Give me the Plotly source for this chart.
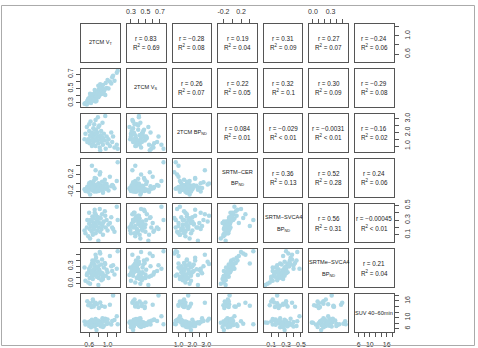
import plotly.graph_objects as go

# ---- data ----
vt = [0.52,0.55,0.58,0.60,0.61,0.63,0.64,0.65,0.66,0.67,0.68,0.69,0.70,0.70,0.71,0.72,0.73,0.74,0.75,0.76,
      0.77,0.78,0.79,0.80,0.81,0.82,0.83,0.84,0.85,0.86,0.87,0.88,0.89,0.90,0.92,0.94,0.96,0.98,1.00,1.02,
      1.05,1.08,1.10,1.15,1.20,1.22,0.62,0.74,0.56,0.80,0.66,0.90,0.72,0.50,0.95,0.68,0.84,0.76,1.12,0.60]
vs = [0.30,0.28,0.36,0.31,0.38,0.33,0.30,0.40,0.34,0.37,0.42,0.33,0.36,0.41,0.38,0.34,0.45,0.37,0.40,0.44,
      0.39,0.46,0.41,0.38,0.49,0.40,0.44,0.50,0.42,0.47,0.45,0.52,0.43,0.55,0.46,0.49,0.58,0.51,0.62,0.50,
      0.60,0.57,0.66,0.61,0.72,0.75,0.43,0.32,0.33,0.54,0.36,0.44,0.48,0.29,0.41,0.35,0.56,0.33,0.68,0.35]
bp = [1.9,2.4,1.5,2.1,1.2,2.8,1.7,1.4,2.0,1.6,1.1,2.3,1.8,1.3,2.6,1.5,1.9,1.0,2.2,1.6,
      1.4,2.0,3.1,1.2,1.7,2.5,0.9,1.5,1.8,2.1,1.3,1.6,2.7,1.1,1.9,1.4,0.8,1.7,1.2,1.5,
      1.0,2.0,1.3,0.9,1.1,0.8,1.8,2.9,1.3,2.4,1.0,1.6,2.2,1.5,3.2,1.4,0.7,1.9,1.7,2.6]
cer = [-0.18,-0.12,-0.20,-0.05,-0.15,0.02,-0.10,-0.08,-0.14,-0.02,-0.17,-0.06,0.05,-0.11,-0.19,-0.04,-0.13,-0.09,0.10,-0.16,
       -0.07,-0.12,-0.03,0.00,-0.18,-0.10,0.20,-0.14,-0.05,-0.08,-0.15,0.03,-0.11,-0.20,-0.06,0.08,-0.13,-0.02,-0.09,-0.17,
       0.15,-0.07,-0.04,-0.12,0.05,0.48,-0.26,0.30,-0.08,-0.15,0.40,-0.22,0.12,-0.14,-0.01,-0.10,0.25,-0.19,-0.06,0.00]
svca4 = [0.12,0.20,0.08,0.25,0.18,0.30,0.22,0.15,0.28,0.35,0.10,0.20,0.32,0.24,0.18,0.40,0.26,0.12,0.36,0.22,
         0.30,0.16,0.28,0.34,0.20,0.26,0.45,0.14,0.32,0.24,0.18,0.38,0.22,0.10,0.28,0.42,0.20,0.30,0.16,0.24,
         0.26,0.34,0.20,0.14,0.48,0.30,0.05,0.38,0.30,0.02,0.22,0.26,0.44,0.16,0.36,0.12,0.33,0.28,0.18,0.40]
svca4e = [0.05,0.15,0.02,0.22,0.10,0.30,0.18,0.12,0.20,0.40,0.08,0.25,0.35,0.15,0.22,0.32,0.18,0.28,0.45,0.12,
          0.26,0.20,0.38,0.30,0.10,0.24,0.55,0.16,0.20,0.33,0.06,0.42,0.18,0.12,0.28,0.36,0.14,0.24,0.20,0.10,
          0.48,0.30,0.22,0.16,0.26,0.56,0.00,0.50,0.18,-0.02,0.35,0.08,0.40,0.28,0.34,0.22,0.52,0.14,0.32,0.26]
suv = [7.5,8.2,14.5,7.0,15.2,8.8,6.5,13.8,9.2,7.8,15.8,8.0,14.0,7.2,8.5,6.8,15.0,9.5,7.6,8.4,
       14.8,7.4,9.0,8.1,13.5,7.9,8.7,15.5,6.9,8.3,14.2,7.3,9.8,8.6,7.1,13.9,8.9,7.7,9.3,8.0,
       14.6,7.5,8.8,9.1,10.5,7.6,8.1,15.4,15.9,8.2,14.3,6.6,7.0,8.6,9.6,16.5,7.8,5.5,18.0,8.4]

series = [vt, vs, bp, cer, svca4, svca4e, suv]
labels = [["2TCM V<sub>T</sub>"], ["2TCM V<sub>S</sub>"], ["2TCM BP<sub>ND</sub>"],
          ["SRTM−CER", "BP<sub>ND</sub>"], ["SRTM−SVCA4", "BP<sub>ND</sub>"],
          ["SRTMe−SVCA4", "BP<sub>ND</sub>"], ["SUV 40−60min"]]

# correlation text for upper panels: (row, col) -> (r, R2)
r_text = {
    (0,1): ("0.83","= 0.69"), (0,2): ("−0.28","= 0.08"), (0,3): ("0.19","= 0.04"),
    (0,4): ("0.31","= 0.09"), (0,5): ("0.27","= 0.07"), (0,6): ("−0.24","= 0.06"),
    (1,2): ("0.26","= 0.07"), (1,3): ("0.22","= 0.05"), (1,4): ("0.32","= 0.1"),
    (1,5): ("0.30","= 0.09"), (1,6): ("−0.29","= 0.08"),
    (2,3): ("0.084","= 0.01"), (2,4): ("−0.029","< 0.01"), (2,5): ("−0.0031","< 0.01"),
    (2,6): ("−0.16","= 0.02"),
    (3,4): ("0.36","= 0.13"), (3,5): ("0.52","= 0.28"), (3,6): ("0.24","= 0.06"),
    (4,5): ("0.56","= 0.31"), (4,6): ("−0.00045","< 0.01"),
    (5,6): ("0.21","= 0.04"),
}

ranges = [[0.43, 1.27], [0.245, 0.778], [0.57, 3.36], [-0.32, 0.56],
          [0.0, 0.52], [-0.06, 0.60], [4.7, 18.5]]
tickvals = [[0.6, 0.8, 1.0, 1.2], [0.3, 0.4, 0.5, 0.6, 0.7], [1.0, 1.5, 2.0, 2.5, 3.0],
            [-0.2, 0.0, 0.2, 0.4], [0.1, 0.2, 0.3, 0.4, 0.5], [0.0, 0.1, 0.2, 0.3, 0.4, 0.5],
            [6, 8, 10, 12, 14, 16, 18]]
ticktext = [["0.6", "", "1.0", ""], ["0.3", "", "0.5", "", "0.7"], ["1.0", "", "2.0", "", "3.0"],
            ["-0.2", "", "0.2", ""], ["0.1", "", "0.3", "", "0.5"], ["0.0", "", "", "0.3", "", ""],
            ["6", "", "10", "", "", "16", ""]]

W, H = 478, 348
LEFT, TOP, PITCH, SIZE = 81, 19, 46, 39
N = 7
FONT = "Liberation Sans, Arial, Helvetica, sans-serif"
LINE = "#555555"
PT = "#ADD8E6"

fig = go.Figure()
layout = dict(width=W, height=H, margin=dict(l=0, r=0, t=0, b=0),
              paper_bgcolor="white", plot_bgcolor="white", showlegend=False,
              font=dict(family=FONT, size=7, color="#222222"))
annotations = []

for i in range(N):
    for j in range(N):
        k = i * N + j + 1
        sx = "" if k == 1 else str(k)
        x0 = LEFT + PITCH * j
        y0 = TOP + PITCH * i
        xd = [x0 / W, (x0 + SIZE) / W]
        yd = [1 - (y0 + SIZE) / H, 1 - y0 / H]
        xa = dict(domain=xd, range=ranges[j], anchor="y" + sx, showgrid=False, zeroline=False,
                  showline=True, mirror=True, linecolor=LINE, linewidth=1,
                  showticklabels=False, ticks="", fixedrange=True)
        ya = dict(domain=yd, range=ranges[i], anchor="x" + sx, showgrid=False, zeroline=False,
                  showline=True, mirror=True, linecolor=LINE, linewidth=1,
                  showticklabels=False, ticks="", fixedrange=True)
        tick_common = dict(ticks="outside", ticklen=4, tickwidth=1, tickcolor=LINE,
                           showticklabels=True, tickfont=dict(size=7, color="#333333"))
        if i == N - 1 and j % 2 == 0:
            xa.update(tick_common, side="bottom", tickvals=tickvals[j], ticktext=ticktext[j],
                      tickangle=0, ticklabelstandoff=1)
        if i == 0 and j % 2 == 1:
            xa.update(tick_common, side="top", tickvals=tickvals[j], ticktext=ticktext[j],
                      tickangle=0, ticklabelstandoff=2)
        if j == 0 and i % 2 == 1:
            ya.update(tick_common, side="left", tickvals=tickvals[i], ticktext=ticktext[i],
                      tickangle=-90, ticklabelstandoff=1)
        if j == N - 1 and i % 2 == 0:
            ya.update(tick_common, side="right", tickvals=tickvals[i], ticktext=ticktext[i],
                      tickangle=-90, ticklabelstandoff=3)
        layout["xaxis" + sx] = xa
        layout["yaxis" + sx] = ya

        if i > j:
            fig.add_trace(go.Scatter(x=series[j], y=series[i], mode="markers",
                                     xaxis="x" + sx, yaxis="y" + sx,
                                     marker=dict(size=4.5, color=PT, line=dict(width=0)),
                                     hoverinfo="skip"))
        else:
            # empty trace so the panel (box + axes) is created
            fig.add_trace(go.Scatter(x=[None], y=[None], mode="markers",
                                     xaxis="x" + sx, yaxis="y" + sx, hoverinfo="skip"))
            if i == j:
                lines = labels[i]
                if len(lines) == 1:
                    annotations.append(dict(xref="x" + sx + " domain", yref="y" + sx + " domain",
                                            x=0.5, y=0.5, text=lines[0], showarrow=False,
                                            font=dict(size=5.6, color="#222222")))
                else:
                    for li, t in enumerate(lines):
                        annotations.append(dict(xref="x" + sx + " domain", yref="y" + sx + " domain",
                                                x=0.5, y=0.5, yshift=6 - 12 * li, text=t,
                                                showarrow=False, font=dict(size=5.6, color="#222222")))
            else:
                r, r2 = r_text[(i, j)]
                annotations.append(dict(xref="x" + sx + " domain", yref="y" + sx + " domain",
                                        x=0.5, y=0.5, yshift=4.5, text="r = " + r, showarrow=False,
                                        font=dict(size=6.3, color="#222222")))
                annotations.append(dict(xref="x" + sx + " domain", yref="y" + sx + " domain",
                                        x=0.5, y=0.5, yshift=-4.5, text="R<sup>2</sup> " + r2,
                                        showarrow=False, font=dict(size=6.3, color="#222222")))

layout["annotations"] = annotations
layout["shapes"] = [dict(type="rect", xref="paper", yref="paper",
                         x0=0.5 / W, x1=1 - 0.5 / W, y0=0.5 / H, y1=1 - 0.5 / H,
                         line=dict(color="#AAAAAA", width=1))]
fig.update_layout(**layout)
fig.write_html("out.html")
